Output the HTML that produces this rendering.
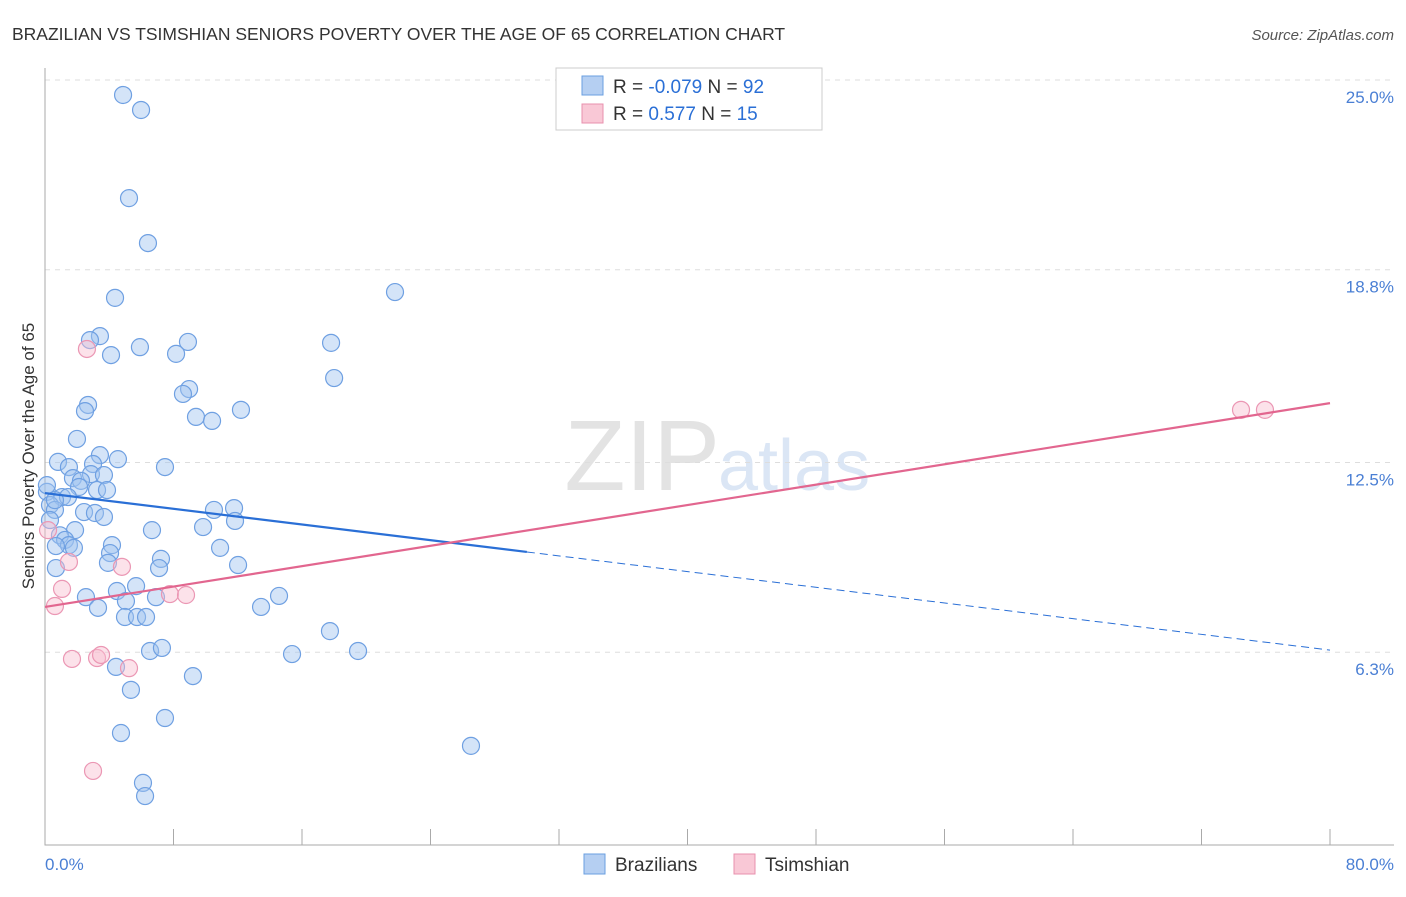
<!DOCTYPE html>
<html><head><meta charset="utf-8"><style>
body{margin:0;background:#fff;font-family:"Liberation Sans",sans-serif;}
svg text{font-family:"Liberation Sans",sans-serif;}
</style></head><body>
<svg width="1406" height="892" id="c">
<text x="12" y="40" font-size="17.5" fill="#333">BRAZILIAN VS TSIMSHIAN SENIORS POVERTY OVER THE AGE OF 65 CORRELATION CHART</text>
<text x="1394" y="40" font-size="15" fill="#555" text-anchor="end" font-style="italic">Source: ZipAtlas.com</text>
<text x="720" y="490" font-size="100" fill="#e3e3e3" text-anchor="end" font-family="Liberation Serif">ZIP</text>
<text x="718" y="490" font-size="72" fill="#dbe6f5">atlas</text>
<g id="grid"></g><g id="pts"></g><g id="lines"></g>
<text transform="translate(34,456) rotate(-90)" font-size="17" fill="#333" text-anchor="middle">Seniors Poverty Over the Age of 65</text>
<text x="45" y="870" font-size="17" fill="#4a7fd4">0.0%</text>
<text x="1394" y="870" font-size="17" fill="#4a7fd4" text-anchor="end">80.0%</text>
<g>
<rect x="556" y="68" width="266" height="62" fill="#fff" stroke="#ccc"/>
<rect x="582" y="76" width="21" height="19" fill="#b5cff2" stroke="#6a9fe0"/>
<rect x="582" y="104" width="21" height="19" fill="#f9c8d6" stroke="#e890ae"/>
<text x="613" y="93" font-size="19" fill="#333">R = <tspan fill="#2a6fd6">-0.079</tspan>   N = <tspan fill="#2a6fd6">92</tspan></text>
<text x="613" y="120" font-size="19" fill="#333">R =   <tspan fill="#2a6fd6">0.577</tspan>   N =  <tspan fill="#2a6fd6">15</tspan></text>
</g>
<g>
<rect x="584" y="854" width="21" height="20" fill="#b5cff2" stroke="#6a9fe0"/>
<text x="615" y="871" font-size="19" fill="#333">Brazilians</text>
<rect x="734" y="854" width="21" height="20" fill="#f9c8d6" stroke="#e890ae"/>
<text x="765" y="871" font-size="19" fill="#333">Tsimshian</text>
</g>
</svg>
<script>
const yTicks=[25.0,18.8,12.5,6.3];
const yTickLabels=["25.0%","18.8%","12.5%","6.3%"];
const xTicks=[0,8,16,24,32,40,48,56,64,72,80];
const braX=[4.86,5.98,5.23,6.41,21.79,4.36,3.42,2.80,5.91,8.90,4.11,8.16,17.81,18.00,8.97,8.59,2.68,2.49,9.40,10.40,12.20,1.99,3.42,4.54,0.81,2.99,1.49,7.47,2.86,3.67,1.74,2.24,2.12,3.24,3.86,0.12,1.06,1.43,0.31,0.62,2.43,3.11,3.67,10.52,11.77,11.83,6.66,9.84,1.87,0.93,1.25,1.49,1.80,0.68,4.17,4.05,10.90,7.22,3.92,0.68,7.10,12.02,5.67,4.48,2.55,5.04,6.91,14.57,3.30,13.45,4.98,5.73,6.29,17.74,6.54,7.28,15.38,19.49,4.42,9.21,5.35,7.47,26.52,4.73,6.10,6.23,0.12,0.62,0.31];
const braY=[24.51,24.02,21.14,19.67,18.07,17.88,16.63,16.50,16.27,16.44,16.01,16.05,16.41,15.26,14.90,14.74,14.38,14.18,13.99,13.86,14.22,13.27,12.74,12.61,12.52,12.45,12.35,12.35,12.12,12.09,11.99,11.90,11.70,11.60,11.60,11.54,11.37,11.37,11.11,10.95,10.88,10.85,10.72,10.95,11.01,10.59,10.29,10.39,10.29,10.12,9.97,9.80,9.71,9.77,9.80,9.54,9.71,9.35,9.22,9.05,9.05,9.15,8.46,8.30,8.10,7.97,8.10,8.14,7.75,7.78,7.45,7.45,7.45,6.99,6.34,6.44,6.24,6.34,5.82,5.52,5.07,4.15,3.24,3.66,2.03,1.60,11.76,11.27,10.62];
const tsiX=[2.61,74.46,75.95,1.49,4.79,1.06,7.78,8.78,0.62,1.68,3.24,3.49,5.23,2.99,0.19];
const tsiY=[16.21,14.22,14.22,9.25,9.09,8.37,8.20,8.17,7.81,6.08,6.11,6.21,5.78,2.42,10.29];
const braTrend=[11.50,6.37]; const braSolidEnd=30.0;
const tsiTrend=[7.78,14.44];
const X=v=>45+v/80*1285, Y=v=>845-v/25*765;
const NS="http://www.w3.org/2000/svg";
function mk(t,a,p){const e=document.createElementNS(NS,t);for(const k in a)e.setAttribute(k,a[k]);p.appendChild(e);return e;}
const g=document.getElementById('grid');
yTicks.forEach((v,i)=>{
 const l=mk('line',{x1:45,x2:1394,y1:Y(v),y2:Y(v),stroke:'#ddd','stroke-dasharray':'5,5'},g);
 
 
 const t=mk('text',{x:1394,y:Y(v)+23,'font-size':17,fill:'#4a7fd4','text-anchor':'end'},g);t.textContent=yTickLabels[i];
 
 
});
const ax=mk('path',{d:'M45 68V845H1394',stroke:'#aaa',fill:'none'},g);


xTicks.forEach(v=>{const l=mk('line',{x1:X(v),x2:X(v),y1:829,y2:845,stroke:'#aaa'},g);
 
 });
const p=document.getElementById('pts');
braX.forEach((v,i)=>{const c=mk('circle',{cx:X(v),cy:Y(braY[i]),r:8.5,fill:'rgba(160,196,240,0.45)',stroke:'#6fa0e2','stroke-width':1.2},p);
 
 });
tsiX.forEach((v,i)=>{const c=mk('circle',{cx:X(v),cy:Y(tsiY[i]),r:8.5,fill:'rgba(248,190,208,0.45)',stroke:'#eb97b4','stroke-width':1.2},p);
 
 });
const L=document.getElementById('lines');
const by=x=>braTrend[0]+(braTrend[1]-braTrend[0])*x/80;
let a=mk('line',{x1:X(0),y1:Y(by(0)),x2:X(braSolidEnd),y2:Y(by(braSolidEnd)),stroke:'#2a6fd6','stroke-width':2.2},L);


a=mk('line',{x1:X(braSolidEnd),y1:Y(by(braSolidEnd)),x2:X(80),y2:Y(by(80)),stroke:'#2a6fd6','stroke-width':1,'stroke-dasharray':'8,5'},L);


a=mk('line',{x1:X(0),y1:Y(tsiTrend[0]),x2:X(80),y2:Y(tsiTrend[1]),stroke:'#e2668f','stroke-width':2.2},L);


</script>
</body></html>
